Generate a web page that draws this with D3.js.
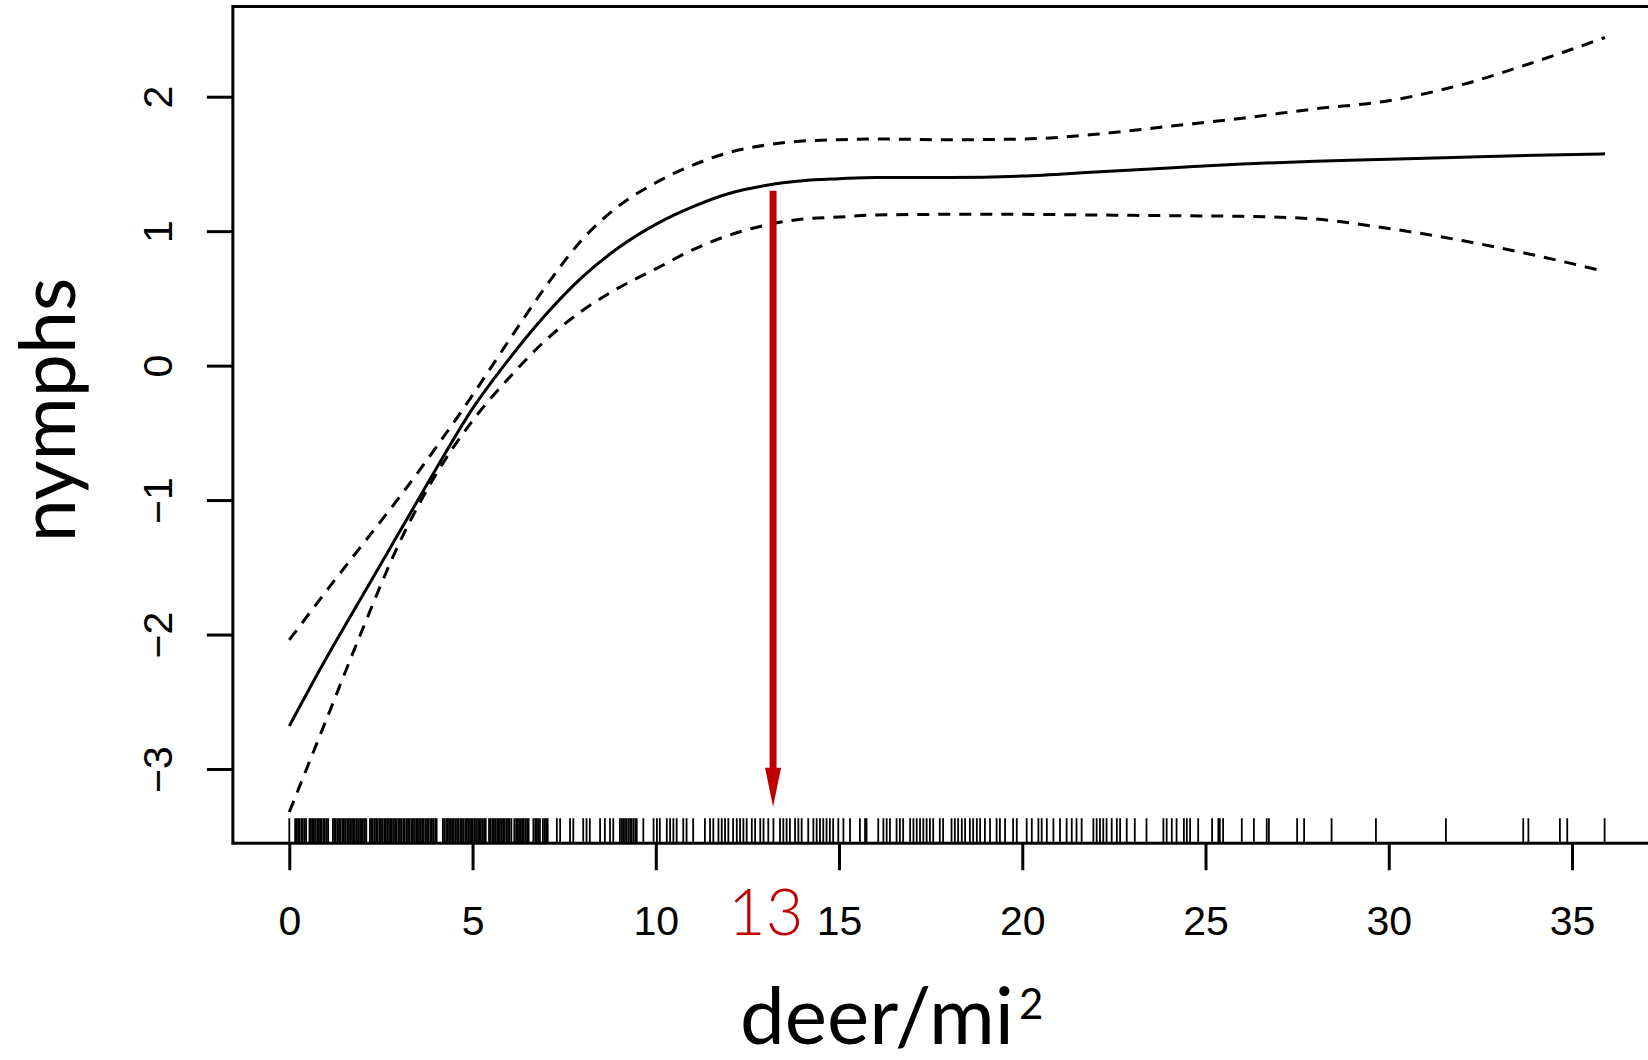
<!DOCTYPE html>
<html>
<head>
<meta charset="utf-8">
<script src="https://cdn.jsdelivr.net/npm/d3@7"></script>
<style>
  body { margin: 0; background: #fff; }
  svg { display: block; }
</style>
</head>
<body>
<div id="chart"></div>
<script>
// deer density values where the smooth and its band were read
var deerGrid = [0, 1, 2, 3, 4, 5, 6, 7, 8, 9, 10, 11, 12, 13, 14, 15, 16, 18, 20, 22, 24, 26, 28, 30, 32, 34, 35.9];
var fitValues = [-2.68, -2.18, -1.71, -1.24, -0.77, -0.32, 0.05, 0.38, 0.66, 0.88, 1.05, 1.18, 1.28, 1.34, 1.375, 1.39, 1.40, 1.40, 1.41, 1.44, 1.47, 1.50, 1.52, 1.535, 1.55, 1.565, 1.575];
var upperBand = [-2.04, -1.68, -1.33, -0.98, -0.61, -0.22, 0.19, 0.59, 0.94, 1.19, 1.36, 1.49, 1.585, 1.64, 1.67, 1.68, 1.685, 1.68, 1.685, 1.72, 1.78, 1.84, 1.91, 1.97, 2.09, 2.26, 2.44];
var lowerBand = [-3.32, -2.64, -1.96, -1.32, -0.81, -0.41, -0.09, 0.19, 0.41, 0.58, 0.72, 0.86, 0.97, 1.045, 1.09, 1.105, 1.12, 1.125, 1.125, 1.12, 1.115, 1.11, 1.09, 1.02, 0.93, 0.82, 0.70];

// observed deer densities (rug)
var rugDeer = [
  0.00, 0.16, 0.20, 0.24, 0.28, 0.33, 0.37, 0.42, 0.46, 0.55, 0.59, 0.63, 0.67, 0.71, 0.76, 0.80, 0.84, 0.88, 0.93, 0.97, 1.02, 1.06,
  1.19, 1.23, 1.27, 1.32, 1.36, 1.40, 1.45, 1.49, 1.53, 1.58, 1.62, 1.66, 1.71, 1.75, 1.79, 1.84, 1.88, 1.93, 1.97, 2.01, 2.06, 2.10,
  2.20, 2.24, 2.28, 2.33, 2.37, 2.41, 2.46, 2.50, 2.54, 2.59, 2.63, 2.67, 2.72, 2.76, 2.80, 2.85, 2.89, 2.93, 2.98, 3.02, 3.06, 3.11,
  3.15, 3.20, 3.24, 3.28, 3.33, 3.37, 3.41, 3.46, 3.50, 3.54, 3.59, 3.63, 3.67, 3.72, 3.76, 3.80, 3.85, 3.89, 3.93, 3.98, 4.02,
  4.19, 4.23, 4.28, 4.32, 4.36, 4.41, 4.45, 4.49, 4.54, 4.58, 4.62, 4.67, 4.71, 4.75, 4.80, 4.84, 4.88, 4.93, 4.97, 5.01, 5.06, 5.10,
  5.15, 5.19, 5.23, 5.28, 5.32, 5.36, 5.45, 5.49, 5.54, 5.58, 5.62, 5.67, 5.71, 5.75, 5.80, 5.84, 5.88, 5.93, 5.97, 6.01, 6.06,
  6.14, 6.19, 6.23, 6.27, 6.32, 6.36, 6.40, 6.45, 6.49, 6.53, 6.66, 6.71, 6.75, 6.79, 6.84, 6.92, 6.97, 7.01, 7.05,
  7.30, 7.39, 7.66, 7.75, 8.02, 8.11, 8.20, 8.48, 8.61, 8.75, 8.84,
  9.02, 9.07, 9.11, 9.16, 9.20, 9.25, 9.30, 9.34, 9.39, 9.44, 9.48, 9.66, 9.94, 10.03, 10.11, 10.30, 10.39, 10.48, 10.57,
  10.75, 10.84, 11.02, 11.34, 11.48, 11.57, 11.71, 11.80, 11.89, 11.98, 12.11, 12.21, 12.30, 12.39, 12.48, 12.62, 12.71, 12.85, 12.94,
  13.07, 13.21, 13.39, 13.48, 13.57, 13.66, 13.80, 13.89, 13.98, 14.16, 14.30, 14.39, 14.48, 14.57, 14.66, 14.75, 14.84, 14.98,
  15.12, 15.30, 15.57, 15.71, 15.75, 16.07, 16.21, 16.30, 16.39, 16.57, 16.66, 16.75, 16.94, 17.03, 17.12, 17.21, 17.30, 17.39,
  17.48, 17.57, 17.75, 17.84, 18.07, 18.16, 18.25, 18.35, 18.44, 18.57, 18.66, 18.76, 18.85, 18.98, 19.12, 19.30, 19.39, 19.53,
  19.75, 19.85, 20.12, 20.26, 20.44, 20.53, 20.67, 20.85, 21.03, 21.21, 21.35, 21.48, 21.62, 21.94, 22.03, 22.12, 22.21, 22.30,
  22.44, 22.58, 22.67, 22.85, 23.07, 23.39, 23.85, 23.94, 24.08, 24.21, 24.41, 24.49, 24.58, 24.80, 25.18, 25.35, 25.39, 25.48,
  25.99, 26.32, 26.67, 26.73, 27.50, 27.69, 28.44, 29.65, 31.56, 33.67, 33.81, 34.67, 34.87, 35.89
];

var xTicks = [0, 5, 10, 15, 20, 25, 30, 35];
var yTicks = [-3, -2, -1, 0, 1, 2];

// highlighted density and the arrow's ends (in data units)
var markDeer = 13.2;
var markLabel = "13";
var arrowFrom = 1.30;
var arrowTo = -3.28;
var arrowHeadStart = -2.99;

var width = 1648;
var height = 1060;
var red = "#c00000";

var svg = d3.select("#chart")
    .append("svg")
    .attr("width", width)
    .attr("height", height);

// scales matched to tick positions in the picture
var x = d3.scaleLinear()
    .domain([0, 35])
    .range([289.3, 1572]);
var y = d3.scaleLinear()
    .domain([-3, 2])
    .range([769, 96.7]);

var xLeft = x(-1.54);
var yTop = y(2.671);
var yBottom = y(-3.552);

// plot box, right edge falls outside the picture
svg.append("rect")
    .attr("x", xLeft)
    .attr("y", yTop)
    .attr("width", x(38.6) - xLeft)
    .attr("height", yBottom - yTop)
    .attr("fill", "none")
    .attr("stroke", "black")
    .attr("stroke-width", 3);

// x axis
var xAxis = d3.axisBottom(x)
    .tickValues(xTicks)
    .tickSize(27)
    .tickPadding(36)
    .tickFormat(d3.format("d"));
var gx = svg.append("g")
    .attr("transform", "translate(0," + yBottom + ")")
    .call(xAxis);
gx.select(".domain").remove();
gx.selectAll(".tick line").attr("stroke-width", 3);
gx.selectAll(".tick text")
    .attr("font-family", "Liberation Sans, Arial, sans-serif")
    .attr("font-size", 41)
    .attr("fill", "black")
    .attr("dy", 0)
    .attr("y", 935 - yBottom);

// y axis
var yAxis = d3.axisLeft(y)
    .tickValues(yTicks)
    .tickSize(26)
    .tickFormat(function (d) { return d < 0 ? "\u2212" + Math.abs(d) : d; });
var gy = svg.append("g")
    .attr("transform", "translate(" + xLeft + ",0)")
    .call(yAxis);
gy.select(".domain").remove();
gy.selectAll(".tick line").attr("stroke-width", 3);
gy.selectAll(".tick text")
    .attr("font-family", "Liberation Sans, Arial, sans-serif")
    .attr("font-size", 41)
    .attr("fill", "black")
    .attr("x", null)
    .attr("dy", null)
    .attr("text-anchor", "middle")
    .attr("transform", "translate(" + (172 - xLeft) + ",0) rotate(-90)");

// rug
svg.append("g")
    .selectAll("line")
    .data(rugDeer)
    .enter()
    .append("line")
    .attr("x1", function (d) { return x(d); })
    .attr("x2", function (d) { return x(d); })
    .attr("y1", yBottom)
    .attr("y2", yBottom - 25)
    .attr("stroke", "black")
    .attr("stroke-width", 1.8);

// fitted smooth and confidence band
var line = d3.line()
    .x(function (d) { return x(d[0]); })
    .y(function (d) { return y(d[1]); })
    .curve(d3.curveMonotoneX);

function pairs(vals) {
    return deerGrid.map(function (d, i) { return [d, vals[i]]; });
}

svg.append("path")
    .attr("d", line(pairs(upperBand)))
    .attr("fill", "none")
    .attr("stroke", "black")
    .attr("stroke-width", 3)
    .attr("stroke-dasharray", "12,9");
svg.append("path")
    .attr("d", line(pairs(lowerBand)))
    .attr("fill", "none")
    .attr("stroke", "black")
    .attr("stroke-width", 3)
    .attr("stroke-dasharray", "12,9");
svg.append("path")
    .attr("d", line(pairs(fitValues)))
    .attr("fill", "none")
    .attr("stroke", "black")
    .attr("stroke-width", 3);

// red arrow down to the rug
var ax = x(markDeer);
svg.append("line")
    .attr("x1", ax)
    .attr("x2", ax)
    .attr("y1", y(arrowFrom))
    .attr("y2", y(arrowHeadStart) + 1)
    .attr("stroke", red)
    .attr("stroke-width", 7);
svg.append("path")
    .attr("d", "M" + (ax - 8) + "," + y(arrowHeadStart) +
        "L" + (ax + 8) + "," + y(arrowHeadStart) +
        "L" + ax + "," + y(arrowTo) + "Z")
    .attr("fill", red);

svg.append("text")
    .attr("x", x(13))
    .attr("y", 935)
    .attr("text-anchor", "middle")
    .attr("font-family", "Lato, sans-serif")
    .attr("font-weight", 300)
    .attr("font-size", 65)
    .attr("fill", red)
    .text(markLabel);

// axis titles
var xTitle = svg.append("text")
    .attr("x", 740)
    .attr("y", 1044)
    .attr("font-family", "Lato, sans-serif")
    .attr("font-size", 80)
    .attr("fill", "black");
xTitle.append("tspan").text("deer/mi");
xTitle.append("tspan")
    .attr("font-size", 42)
    .attr("dy", -25)
    .attr("dx", 5)
    .text("2");

svg.append("text")
    .attr("transform", "translate(75,410) rotate(-90)")
    .attr("text-anchor", "middle")
    .attr("font-family", "Lato, sans-serif")
    .attr("font-size", 77)
    .attr("fill", "black")
    .text("nymphs");
</script>
</body>
</html>
